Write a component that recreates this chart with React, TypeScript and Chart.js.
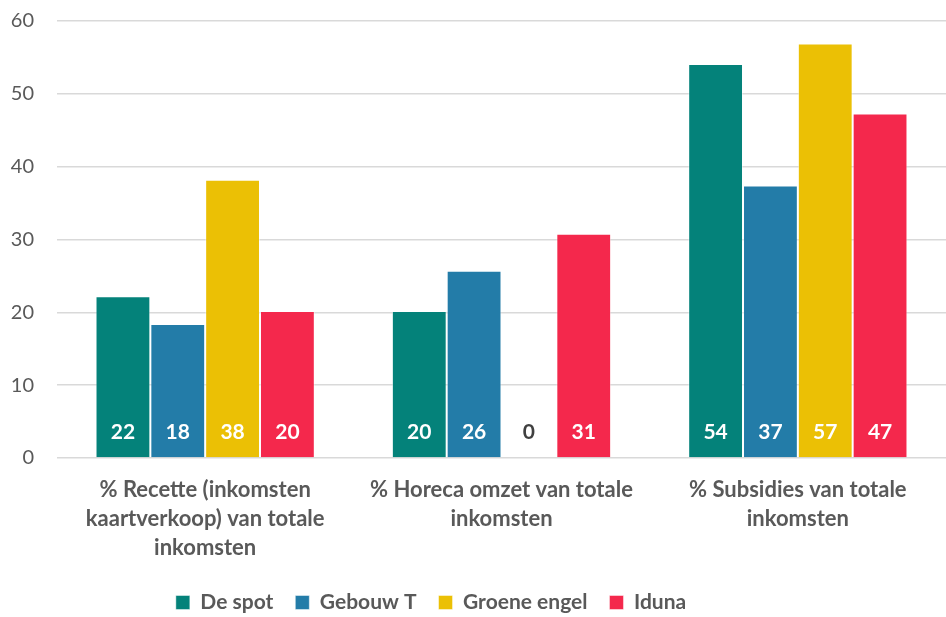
import React, { useEffect, useRef } from "react";
import { Chart, registerables } from "chart.js";

Chart.register(...registerables);

const categories: string[][] = [
  ["% Recette (inkomsten", "kaartverkoop) van totale", "inkomsten"],
  ["% Horeca omzet van totale", "inkomsten"],
  ["% Subsidies van totale", "inkomsten"],
];
const seriesNames = ["De spot", "Gebouw T", "Groene engel", "Iduna"];
const deSpot = [22.2, 20.2, 54.1];
const gebouwT = [18.4, 25.7, 37.4];
const groeneEngel = [38.2, 0, 56.9];
const iduna = [20.2, 30.8, 47.3];
const colors = ["#04827a", "#237ca8", "#ebc005", "#f4284c"];
const yTicks = [0, 10, 20, 30, 40, 50, 60];

const FONT = "Lato, 'Open Sans', sans-serif";

const labelPlugin = {
  id: "barLabels",
  afterDatasetsDraw(chart: any) {
    const ctx = chart.ctx;
    const yScale = chart.scales.y;
    const y0 = yScale.getPixelForValue(0);
    ctx.save();
    ctx.font = `bold 21px ${FONT}`;
    ctx.textAlign = "center";
    ctx.textBaseline = "middle";
    chart.data.datasets.forEach((ds: any, i: number) => {
      const meta = chart.getDatasetMeta(i);
      meta.data.forEach((el: any, j: number) => {
        const v = ds.data[j];
        ctx.fillStyle = v === 0 ? "#404040" : "#ffffff";
        ctx.fillText(String(Math.round(v)), el.x, y0 - 26);
      });
    });
    ctx.restore();
  },
};

const legendShift = {
  id: "legendShift",
  afterLayout(chart: any) {
    if (chart.legend) {
      chart.legend.top += 6;
      chart.legend.bottom += 6;
      chart.legend.left -= 42;
      chart.legend.right -= 42;
    }
  },
};

export default function App() {
  const ref = useRef<HTMLCanvasElement | null>(null);
  useEffect(() => {
    if (!ref.current) return;
    const series = [deSpot, gebouwT, groeneEngel, iduna];
    const chart = new Chart(ref.current, {
      type: "bar",
      data: {
        labels: categories,
        datasets: series.map((d, i) => ({
          label: seriesNames[i],
          data: d,
          backgroundColor: colors[i],
          borderColor: "rgba(255,255,255,0.45)",
          borderWidth: 1,
          categoryPercentage: 0.74,
          barPercentage: 1,
        })),
      },
      options: {
        animation: false,
        responsive: false,
        maintainAspectRatio: false,
        layout: { padding: { top: 0, left: 0, right: 0, bottom: 0 } },
        plugins: {
          tooltip: { enabled: false },
          legend: {
            position: "bottom",
            labels: {
              boxWidth: 14,
              boxHeight: 14,
              padding: 22,
              color: "#595959",
              font: { family: FONT, size: 21, weight: "bold" },
            },
          },
        },
        scales: {
          x: {
            grid: { display: false, drawTicks: false },
            border: { display: false },
            ticks: {
              color: "#595959",
              font: { family: FONT, size: 22, weight: "bold", lineHeight: 1.3 },
              padding: 18,
              maxRotation: 0,
              autoSkip: false,
            },
            afterFit(scale: any) {
              scale.height = 106;
            },
          },
          y: {
            min: 0,
            max: 60,
            afterBuildTicks(scale: any) {
              scale.ticks = yTicks.map((v) => ({ value: v }));
            },
            grid: { color: "#d9d9d9", lineWidth: 1.5, drawTicks: false },
            border: { display: false },
            ticks: {
              color: "#595959",
              font: { family: FONT, size: 20 },
              padding: 23,
            },
            afterFit(scale: any) {
              scale.width = 57;
              scale.paddingTop = 21;
              scale.paddingBottom = 0;
            },
          },
        },
      } as any,
      plugins: [labelPlugin, legendShift],
    });
    return () => chart.destroy();
  }, []);
  return (
    <div style={{ position: "fixed", left: 0, top: 0, width: 946, height: 617, background: "#fff" }}>
      <canvas ref={ref} width={946} height={617} style={{ width: 946, height: 617 }} />
    </div>
  );
}
